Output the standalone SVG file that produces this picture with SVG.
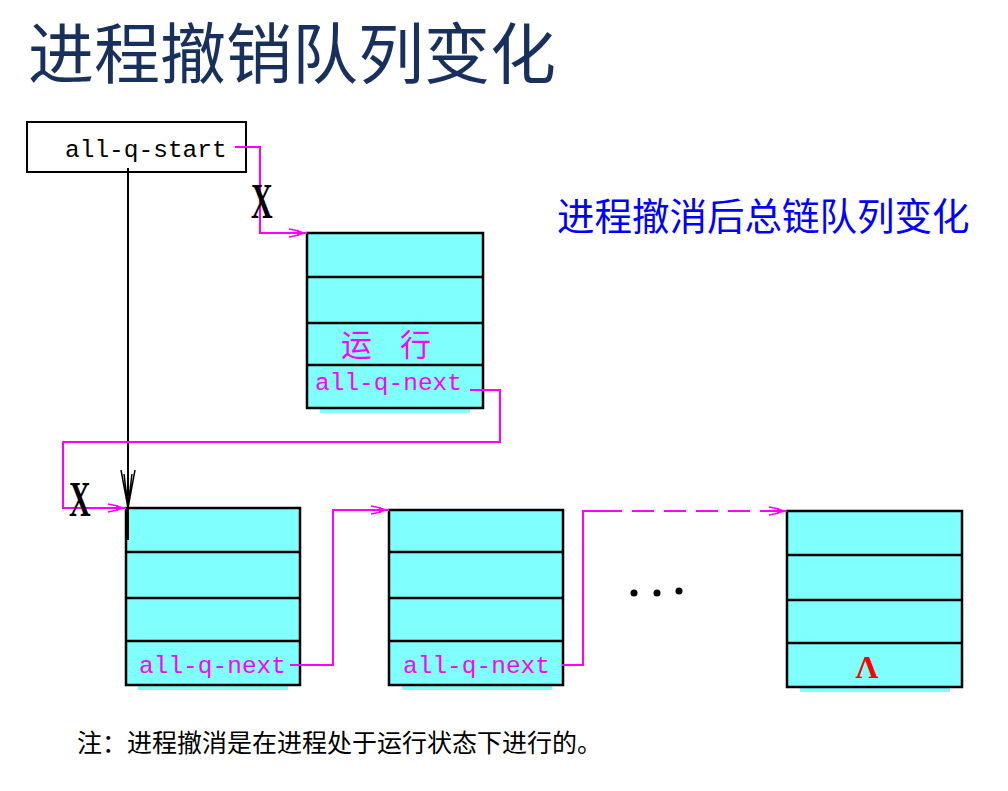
<svg xmlns="http://www.w3.org/2000/svg" width="1008" height="791" viewBox="0 0 1008 791">
<style>
.box{fill:#80ffff;stroke:#000;stroke-width:2.5}
.div{stroke:#000;stroke-width:2.5}
.shadow{fill:#80ffff}
.mono{font-family:"Liberation Mono",monospace;font-size:24.5px}
.mag{fill:#ff00ff}
.link{fill:none;stroke:#ff00ff;stroke-width:2}
.cjk{font-family:"Noto Sans CJK SC",sans-serif}
.xlab{font-family:"Liberation Serif",serif;font-weight:bold;font-size:50px;fill:#000}
</style>
<defs>
<marker id="arr" markerWidth="24" markerHeight="12" refX="22" refY="6" orient="auto" markerUnits="userSpaceOnUse">
<path d="M4,2 L14,4 M4,10 L14,8 M6,6 L22,6" stroke="#ff00ff" stroke-width="1.5" fill="none"/>
<path d="M12,3 L22,6 L12,9 Z" fill="#ff00ff"/>
</marker>
<marker id="arrK" markerWidth="16" markerHeight="40" refX="8" refY="38" orient="0" markerUnits="userSpaceOnUse">
<path d="M1,0 L8,38 M15,0 L8,38 M4,4 L8,36 M12,4 L8,36" stroke="#000" stroke-width="1.5" fill="none"/>
</marker>
</defs>

<text x="28" y="78" class="cjk" font-size="66" fill="#17305e">进程撤销队列变化</text>
<text x="557" y="230" class="cjk" font-size="37.5" fill="#0000ff">进程撤消后总链队列变化</text>

<g id="start">
<rect x="27" y="122" width="219" height="50" fill="#fff" stroke="#000" stroke-width="2"/>
<text x="65" y="157" class="mono" fill="#000">all-q-start</text>
</g>

<g id="pcb-run">
<rect class="shadow" x="320" y="408" width="150" height="5"/>
<rect class="box" x="307" y="233" width="176" height="175"/>
<line class="div" x1="307" y1="277" x2="483" y2="277"/>
<line class="div" x1="307" y1="323" x2="483" y2="323"/>
<line class="div" x1="307" y1="365" x2="483" y2="365"/>
<text x="341" y="356" class="cjk mag" font-size="31">运</text>
<text x="400" y="356" class="cjk mag" font-size="31">行</text>
<text x="315" y="390" class="mono mag">all-q-next</text>
</g>

<g id="pcb-1">
<rect class="shadow" x="138" y="685" width="150" height="5"/>
<rect class="box" x="126" y="508" width="174" height="177"/>
<line class="div" x1="126" y1="552" x2="300" y2="552"/>
<line class="div" x1="126" y1="598" x2="300" y2="598"/>
<line class="div" x1="126" y1="641" x2="300" y2="641"/>
<text x="139" y="673" class="mono mag">all-q-next</text>
</g>

<g id="pcb-2">
<rect class="shadow" x="402" y="685" width="150" height="5"/>
<rect class="box" x="389" y="510" width="174" height="175"/>
<line class="div" x1="389" y1="552" x2="563" y2="552"/>
<line class="div" x1="389" y1="598" x2="563" y2="598"/>
<line class="div" x1="389" y1="641" x2="563" y2="641"/>
<text x="403" y="673" class="mono mag">all-q-next</text>
</g>

<g id="dots" fill="#000">
<circle cx="634" cy="593" r="3.5"/>
<circle cx="657" cy="593" r="3.5"/>
<circle cx="679" cy="591" r="3.5"/>
</g>

<g id="pcb-last">
<rect class="shadow" x="800" y="687" width="150" height="5"/>
<rect class="box" x="787" y="511" width="175" height="176"/>
<line class="div" x1="787" y1="555" x2="962" y2="555"/>
<line class="div" x1="787" y1="600" x2="962" y2="600"/>
<line class="div" x1="787" y1="643" x2="962" y2="643"/>
<text x="867" y="678" font-family="Liberation Serif,serif" font-weight="bold" font-size="32" fill="#ff0000" text-anchor="middle">Λ</text>
</g>

<g id="connectors">
<line x1="128" y1="168" x2="128" y2="508" stroke="#000" stroke-width="2" marker-end="url(#arrK)"/>
<line x1="128" y1="508" x2="128" y2="540" stroke="#000" stroke-width="2"/>
<polyline class="link" points="235,147 260,147 260,233 307,233" marker-end="url(#arr)"/>
<polyline class="link" points="470,390 500,390 500,442 63,442 63,508 126,508" marker-end="url(#arr)"/>
<polyline class="link" points="290,665 333,665 333,510 389,510" marker-end="url(#arr)"/>
<polyline class="link" points="562,665 583,665 583,511 600,511"/>
<line class="link" x1="600" y1="511" x2="787" y2="511" stroke-dasharray="22,10" marker-end="url(#arr)"/>
<text class="xlab" transform="translate(251,218) scale(0.6,1)">X</text>
<text class="xlab" transform="translate(69,516) scale(0.6,1)">X</text>
</g>

<text x="77" y="752" class="cjk" font-size="25" fill="#000">注：进程撤消是在进程处于运行状态下进行的。</text>
</svg>
